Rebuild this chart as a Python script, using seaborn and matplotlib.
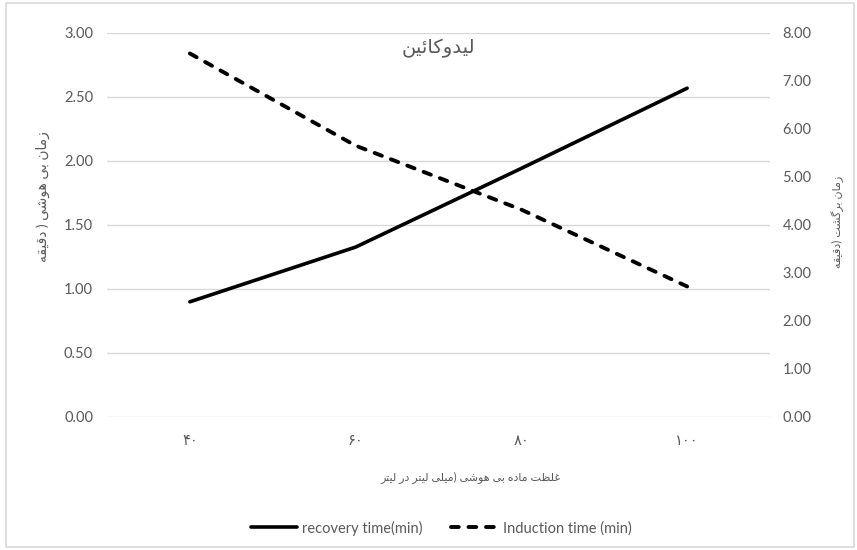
import pandas as pd
import seaborn as sns
import matplotlib.pyplot as plt
from matplotlib.patches import Rectangle

# data
dose_labels = ["۴۰", "۶۰", "۸۰", "۱۰۰"]
induction_time = [2.84, 2.12, 1.62, 1.02]   # left axis, dashed
recovery_time = [2.40, 3.54, 5.18, 6.85]    # right axis, solid

# arabic letter forms: isolated, final, initial, medial
FORMS = {
    'ا': ('\uFE8D', '\uFE8E'),
    'ب': ('\uFE8F', '\uFE90', '\uFE91', '\uFE92'),
    'ت': ('\uFE95', '\uFE96', '\uFE97', '\uFE98'),
    'د': ('\uFEA9', '\uFEAA'),
    'ر': ('\uFEAD', '\uFEAE'),
    'ز': ('\uFEAF', '\uFEB0'),
    'ش': ('\uFEB5', '\uFEB6', '\uFEB7', '\uFEB8'),
    'ظ': ('\uFEC5', '\uFEC6', '\uFEC7', '\uFEC8'),
    'غ': ('\uFECD', '\uFECE', '\uFECF', '\uFED0'),
    'ق': ('\uFED5', '\uFED6', '\uFED7', '\uFED8'),
    'ل': ('\uFEDD', '\uFEDE', '\uFEDF', '\uFEE0'),
    'م': ('\uFEE1', '\uFEE2', '\uFEE3', '\uFEE4'),
    'ن': ('\uFEE5', '\uFEE6', '\uFEE7', '\uFEE8'),
    'ه': ('\uFEE9', '\uFEEA', '\uFEEB', '\uFEEC'),
    'و': ('\uFEED', '\uFEEE'),
    'ئ': ('\uFE89', '\uFE8A', '\uFE8B', '\uFE8C'),
    'ی': ('\uFBFC', '\uFBFD', '\uFBFE', '\uFBFF'),
    'ي': ('\uFBFC', '\uFBFD', '\uFBFE', '\uFBFF'),
    'ک': ('\uFB8E', '\uFB8F', '\uFB90', '\uFB91'),
    'ك': ('\uFB8E', '\uFB8F', '\uFB90', '\uFB91'),
    'گ': ('\uFB92', '\uFB93', '\uFB94', '\uFB95'),
}


def shape(word):
    out = []
    for i, ch in enumerate(word):
        f = FORMS.get(ch)
        if f is None:
            out.append(ch)
            continue
        prev = word[i - 1] if i > 0 else ''
        nxt = word[i + 1] if i + 1 < len(word) else ''
        jp = prev in FORMS and len(FORMS[prev]) == 4
        jn = len(f) == 4 and nxt in FORMS
        if jp and jn:
            out.append(f[3])
        elif jp:
            out.append(f[1])
        elif jn:
            out.append(f[2])
        else:
            out.append(f[0])
    return ''.join(reversed(out))


def rtl(words):
    # words given in reading order, returned in visual (left to right) order
    return " ".join(reversed(words))


title_txt = shape("لیدوکائین")
xlab_txt = rtl([shape("غلظت"), shape("ماده"), shape("بی"), shape("هوشی"),
                shape("میلی") + ")", shape("لیتر"), shape("در"), shape("لیتر")])
ylab_left = rtl([shape("زمان"), shape("بی"), shape("هوشی"), ")", shape("دقیقه")])
ylab_right = rtl([shape("زمان"), shape("برگشت"), shape("دقیقه") + ")"])

sns.set_style("white")
plt.rcParams['font.family'] = ['Lato', 'DejaVu Sans']
grey = "#595959"

W, H = 857, 550
fig = plt.figure(figsize=(W / 100, H / 100), dpi=100)
ax = fig.add_axes([107 / W, 1 - 417 / H, (770 - 107) / W, 384 / H])
ax2 = ax.twinx()

df = pd.DataFrame({"dose": dose_labels, "induction": induction_time,
                   "recovery": recovery_time})

sns.lineplot(data=df, x="dose", y="induction", ax=ax, color="black", lw=2.8,
             sort=False, linestyle=(0, (2.0, 2.5)), dash_capstyle="round",
             label="Induction time (min)")
sns.lineplot(data=df, x="dose", y="recovery", ax=ax2, color="black", lw=2.6,
             sort=False, solid_capstyle="round", label="recovery time(min)")

for a in (ax, ax2):
    if a.get_legend() is not None:
        a.get_legend().remove()
    for s in a.spines.values():
        s.set_visible(False)
    a.set_xlabel("")
    a.set_ylabel("")
    a.tick_params(length=0, colors=grey, labelsize=10.5)

ax.set_xlim(-0.5, 3.5)
ax.set_ylim(0, 3)
ax.set_yticks([0, 0.5, 1, 1.5, 2, 2.5, 3])
ax.set_yticklabels([f"{v:.2f}" for v in ax.get_yticks()])
ax2.set_ylim(0, 8)
ax2.set_yticks(range(9))
ax2.set_yticklabels([f"{v:.2f}" for v in range(9)])
ax.yaxis.grid(True, color="#d9d9d9", lw=1)
ax.xaxis.grid(False)
ax2.grid(False)
ax.tick_params(axis="y", pad=10)
ax2.tick_params(axis="y", pad=9)
ax.tick_params(axis="x", pad=12)

fig.text(438 / W, 1 - 48 / H, title_txt, ha="center", va="center",
         fontsize=14, color=grey)
fig.text(471 / W, 1 - 478 / H, xlab_txt, ha="center", va="center",
         fontsize=8, color=grey)
fig.text(43 / W, 1 - 197 / H, ylab_left, ha="center", va="center",
         rotation=90, fontsize=10, color=grey)
fig.text(838 / W, 1 - 222 / H, ylab_right, ha="center", va="center",
         rotation=90, fontsize=8, color=grey)

h1, l1 = ax2.get_legend_handles_labels()
h2, l2 = ax.get_legend_handles_labels()
leg = fig.legend(h1 + h2, l1 + l2, loc="center", ncol=2, frameon=False,
                 bbox_to_anchor=(441 / W, 1 - 528 / H), handlelength=3.2,
                 handletextpad=0.3, columnspacing=2.0, fontsize=10.5)
for t in leg.get_texts():
    t.set_color(grey)

fig.patches.append(Rectangle((6 / W, 3 / H), (W - 9) / W, (H - 6) / H,
                             transform=fig.transFigure, fill=False,
                             ec="#d9d9d9", lw=1.2))

fig.savefig("out.png", dpi=100)
